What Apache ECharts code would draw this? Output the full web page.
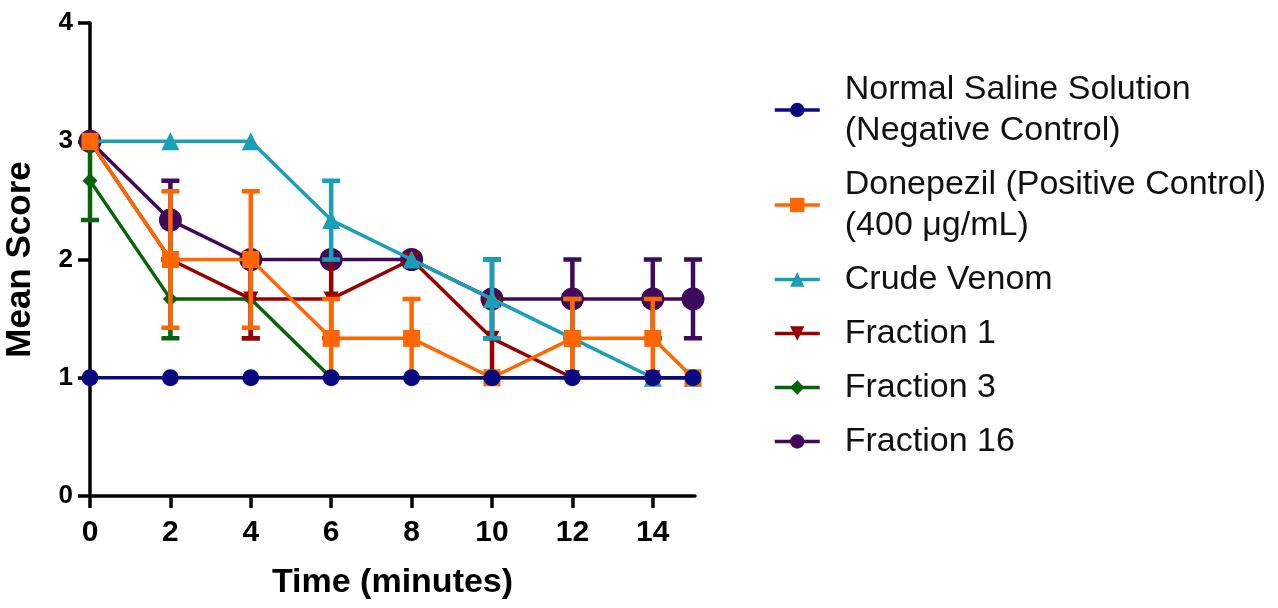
<!DOCTYPE html>
<html><head><meta charset="utf-8">
<script src="https://cdn.jsdelivr.net/npm/echarts@6/dist/echarts.min.js"></script>
<style>html,body{margin:0;padding:0;background:#fff}#c{width:1278px;height:608px}</style>
</head><body><div id="c"></div>
<script>
// ---- data ----
const times = [0, 2, 4, 6, 8, 10, 12, 14, 15];
const xTicks = [0, 2, 4, 6, 8, 10, 12, 14];
const yTicks = [0, 1, 2, 3, 4];
const seriesNames = [
  'Normal Saline Solution\n(Negative Control)',
  'Donepezil (Positive Control)\n(400 μg/mL)',
  'Crude Venom',
  'Fraction 1',
  'Fraction 3',
  'Fraction 16'
];
const saline      = [1, 1, 1, 1, 1, 1, 1, 1, 1];
const salineErr   = [0, 0, 0, 0, 0, 0, 0, 0, 0];
const donepezil   = [3, 2, 2, 1.333, 1.333, 1, 1.333, 1.333, 1];
const donepezilErr= [0, 0.577, 0.577, 0.333, 0.333, 0, 0.333, 0.333, 0];
const crude       = [3, 3, 3, 2.333, 2, 1.667, 1.333, 1, 1];
const crudeErr    = [0, 0, 0, 0.333, 0, 0.333, 0.333, 0, 0];
const frac1       = [3, 2, 1.667, 1.667, 2, 1.333, 1, 1, 1];
const frac1Err    = [0, 0, 0.333, 0.333, 0, 0.333, 0, 0, 0];
const frac3       = [2.667, 1.667, 1.667, 1, 1, 1, 1, 1, 1];
const frac3Err    = [0.333, 0.333, 0.333, 0, 0, 0, 0, 0, 0];
const frac16      = [3, 2.333, 2, 2, 2, 1.667, 1.667, 1.667, 1.667];
const frac16Err   = [0, 0.333, 0, 0, 0, 0.333, 0.333, 0.333, 0.333];

// ---- styles ----
const FONT = '"Liberation Sans", Arial, sans-serif';
const specs = [
  {name: seriesNames[0], vals: saline,    errs: salineErr,    color: '#0a0a80', symbol: 'circle',   size: 17, rot: 0,   z: 12},
  {name: seriesNames[1], vals: donepezil, errs: donepezilErr, color: '#ff6600', symbol: 'rect',     size: 17, rot: 0,   z: 11},
  {name: seriesNames[2], vals: crude,     errs: crudeErr,     color: '#1a9fb8', symbol: 'triangle', size: 18, rot: 0,   z: 10},
  {name: seriesNames[3], vals: frac1,     errs: frac1Err,     color: '#990000', symbol: 'triangle', size: 15, rot: 180, z: 9},
  {name: seriesNames[4], vals: frac3,     errs: frac3Err,     color: '#066306', symbol: 'diamond',  size: 15, rot: 0,   z: 8},
  {name: seriesNames[5], vals: frac16,    errs: frac16Err,    color: '#3f0a5c', symbol: 'circle',   size: 23, rot: 0,   z: 7}
];

const series = [];
specs.forEach(s => {
  series.push({
    type: 'custom',
    z: s.z,
    silent: true,
    data: times.map((t, i) => [t, s.vals[i], s.errs[i]]),
    encode: {x: 0, y: 1},
    renderItem: (params, api) => {
      const x = api.value(0), y = api.value(1), e = api.value(2);
      if (!e) return null;
      const top = api.coord([x, y + e]);
      const bot = api.coord([x, y - e]);
      const w = 9;
      const st = {stroke: s.color, lineWidth: 4.5};
      return {type: 'group', children: [
        {type: 'line', shape: {x1: top[0], y1: top[1], x2: bot[0], y2: bot[1]}, style: st},
        {type: 'line', shape: {x1: top[0] - w, y1: top[1], x2: top[0] + w, y2: top[1]}, style: st},
        {type: 'line', shape: {x1: bot[0] - w, y1: bot[1], x2: bot[0] + w, y2: bot[1]}, style: st}
      ]};
    }
  });
  series.push({
    type: 'line',
    name: s.name,
    z: s.z,
    data: times.map((t, i) => [t, s.vals[i]]),
    symbol: s.symbol,
    symbolSize: s.size,
    symbolRotate: s.rot,
    showAllSymbol: true,
    color: s.color,
    itemStyle: {color: s.color, opacity: 1},
    lineStyle: {color: s.color, width: 3.5},
    emphasis: {disabled: true}
  });
});

const chart = echarts.init(document.getElementById('c'), null, {renderer: 'canvas'});
chart.setOption({
  animation: false,
  backgroundColor: '#fff',
  grid: {left: 90, top: 23, width: 605, height: 473, containLabel: false, outerBoundsMode: 'none'},
  xAxis: {
    type: 'value', min: 0, max: 15.05, interval: 2,
    axisLine: {show: true, lineStyle: {color: '#000', width: 3.5}},
    axisTick: {show: true, length: 12, lineStyle: {color: '#000', width: 3.5}, customValues: xTicks},
    axisLabel: {customValues: xTicks, fontSize: 30, fontWeight: 'bold', color: '#000', fontFamily: FONT, margin: 22},
    splitLine: {show: false},
    name: 'Time (minutes)', nameLocation: 'middle', nameGap: 70,
    nameTextStyle: {fontSize: 34, fontWeight: 'bold', color: '#000', fontFamily: FONT}
  },
  yAxis: {
    type: 'value', min: 0, max: 4, interval: 1,
    axisLine: {show: true, lineStyle: {color: '#000', width: 3.5}},
    axisTick: {show: true, length: 12, lineStyle: {color: '#000', width: 3.5}, customValues: yTicks},
    axisLabel: {customValues: yTicks, fontSize: 26, fontWeight: 'bold', color: '#000', fontFamily: FONT, margin: 17},
    splitLine: {show: false},
    name: 'Mean Score', nameLocation: 'middle', nameGap: 52,
    nameTextStyle: {fontSize: 35, fontWeight: 'bold', color: '#000', fontFamily: FONT}
  },
  legend: {
    data: seriesNames,
    orient: 'vertical',
    left: 773, top: 69, padding: 0,
    itemWidth: 45, itemHeight: 18, itemGap: 13,
    selectedMode: false,
    lineStyle: {width: 3.5},
    textStyle: {fontSize: 34, lineHeight: 41, color: '#111', fontFamily: FONT, padding: [0, 0, 0, 20]}
  },
  series: series
});
</script>
</body></html>
